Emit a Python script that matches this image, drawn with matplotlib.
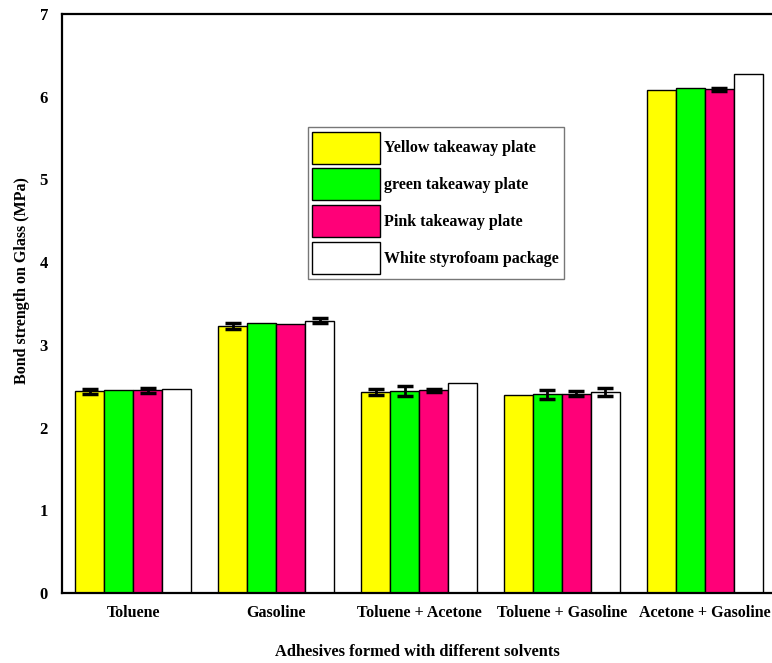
import numpy as np
import matplotlib.pyplot as plt
from matplotlib.patches import Patch

plt.rcParams['font.family'] = ['Liberation Serif', 'DejaVu Serif']
plt.rcParams['font.weight'] = 'bold'

# 溶剂类别与四种泡沫来源
solvents = ['Toluene', 'Gasoline', 'Toluene + Acetone', 'Toluene + Gasoline', 'Acetone + Gasoline']
series = ['Yellow takeaway plate', 'green takeaway plate', 'Pink takeaway plate', 'White styrofoam package']
colors = ['#FFFF00', '#00FF00', '#FF0078', '#FFFFFF']

yellow = [2.44, 3.23, 2.43, 2.39, 6.08]
green = [2.46, 3.26, 2.44, 2.40, 6.10]
pink = [2.45, 3.25, 2.45, 2.41, 6.09]
white = [2.47, 3.29, 2.54, 2.43, 6.28]

yellow_err = [0.03, 0.04, 0.04, 0.00, 0.00]
green_err = [0.00, 0.00, 0.06, 0.05, 0.00]
pink_err = [0.03, 0.00, 0.02, 0.03, 0.02]
white_err = [0.00, 0.03, 0.00, 0.05, 0.00]

values = [yellow, green, pink, white]
errors = [yellow_err, green_err, pink_err, white_err]

fig = plt.figure(figsize=(7.72, 6.63), dpi=100)
ax = fig.add_axes([0.0803, 0.1056, 0.9197, 0.8733])

x = np.arange(len(solvents))
w = 0.203
for i in range(4):
    err = np.array(errors[i])
    ax.bar(x + (i - 1.5) * w, values[i], width=w, color=colors[i],
           edgecolor='black', linewidth=1.0, zorder=2)
    # 误差线（只画非零的）
    mask = err > 0
    ax.errorbar((x + (i - 1.5) * w)[mask], np.array(values[i])[mask], yerr=err[mask],
                fmt='none', ecolor='black', elinewidth=2, capsize=5.5, capthick=2.5, zorder=3)

ax.set_xlim(-0.5, 4.47)
ax.set_ylim(0, 7)
ax.set_xticks(x)
ax.set_xticklabels(solvents, fontsize=11.5, fontweight='bold')
ax.set_yticks(range(8))
ax.set_yticklabels([str(v) for v in range(8)], fontsize=12, fontweight='bold')
ax.tick_params(axis='both', length=0)
ax.tick_params(axis='x', pad=9)
ax.tick_params(axis='y', pad=10)

ax.spines['right'].set_visible(False)
for s in ['left', 'bottom', 'top']:
    ax.spines[s].set_linewidth(1.6)

ax.set_xlabel('Adhesives formed with different solvents', fontsize=11.8, fontweight='bold', labelpad=16)
ax.set_ylabel('Bond strength on Glass (MPa)', fontsize=11.5, fontweight='bold')
ax.yaxis.set_label_coords(-0.045, 0.54)

handles = [Patch(facecolor=c, edgecolor='black', linewidth=1.0) for c in colors]
leg = ax.legend(handles, series, loc='upper left', bbox_to_anchor=(0.346, 0.805),
                borderaxespad=0, fancybox=False, edgecolor='#555555',
                prop={'weight': 'bold', 'size': 11.5}, handlelength=4.25, handleheight=2.7,
                labelspacing=0.3, handletextpad=0.25, borderpad=0.3)
leg.get_frame().set_linewidth(1.0)

fig.savefig('out.png', dpi=100)
